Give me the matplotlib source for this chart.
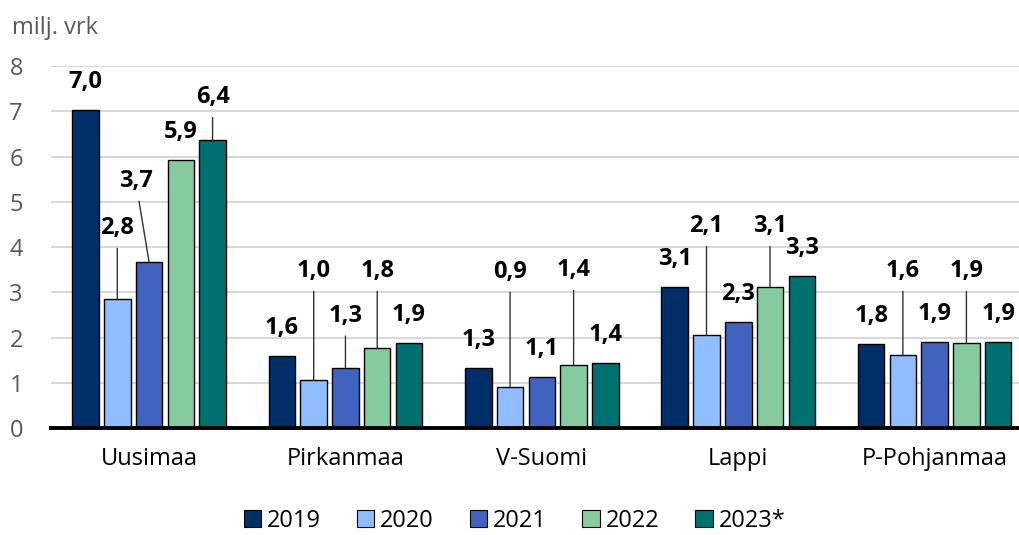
import matplotlib
matplotlib.use("Agg")
import matplotlib.pyplot as plt
import numpy as np

categories = ["Uusimaa", "Pirkanmaa", "V-Suomi", "Lappi", "P-Pohjanmaa"]
years = ["2019", "2020", "2021", "2022", "2023*"]
values = {
    "2019": [7.03, 1.60, 1.33, 3.12, 1.86],
    "2020": [2.85, 1.06, 0.91, 2.06, 1.61],
    "2021": [3.67, 1.33, 1.13, 2.34, 1.90],
    "2022": [5.92, 1.77, 1.39, 3.12, 1.88],
    "2023*": [6.36, 1.88, 1.44, 3.36, 1.91],
}
labels = {
    "2019": ["7,0", "1,6", "1,3", "3,1", "1,8"],
    "2020": ["2,8", "1,0", "0,9", "2,1", "1,6"],
    "2021": ["3,7", "1,3", "1,1", "2,3", "1,9"],
    "2022": ["5,9", "1,8", "1,4", "3,1", "1,9"],
    "2023*": ["6,4", "1,9", "1,4", "3,3", "1,9"],
}
colors = ["#002e69", "#8fbdff", "#4063c0", "#86caa0", "#007170"]

# label placement (height of label centre in axis units; None = directly above bar)
label_y = {
    "2019": [None, None, None, None, None],
    "2020": [4.42, 3.47, 3.45, 4.46, 3.47],
    "2021": [5.46, 2.48, None, None, None],
    "2022": [None, 3.47, 3.49, 4.46, 3.47],
    "2023*": [7.31, None, None, None, None],
}
label_dx = {"2021": [-0.068, 0, 0, 0, 0]}

plt.rcParams['font.family'] = ['Open Sans', 'DejaVu Sans']

fig = plt.figure(figsize=(10.19, 5.35), dpi=100)
ax = fig.add_axes([0.0499, 0.2, 0.9637, 0.6766])

x = np.arange(len(categories))
step = 0.1617
bw = 0.135
LFS = 17
for i, yr in enumerate(years):
    xs = x + (i - 2) * step
    ax.bar(xs, values[yr], width=bw, color=colors[i], edgecolor="black",
           linewidth=1.0, zorder=3, label=yr)
    for j in range(len(categories)):
        v = values[yr][j]
        ly = label_y[yr][j]
        dx = label_dx.get(yr, [0]*5)[j]
        if ly is None:
            ax.text(xs[j], v + 0.62, labels[yr][j], ha="center", va="center",
                    fontsize=LFS, fontweight="bold", color="black", zorder=5, clip_on=False)
        else:
            ax.annotate(labels[yr][j], xy=(xs[j], v), xytext=(xs[j] + dx, ly),
                        ha="center", va="center", fontsize=LFS, fontweight="bold",
                        color="black", zorder=5,
                        arrowprops=dict(arrowstyle="-", color="#333333", lw=1.0,
                                        shrinkA=4, shrinkB=0))

ax.set_xlim(-0.5, 4.5)
ax.set_ylim(0, 8)
ax.set_yticks(range(0, 9))
ax.yaxis.grid(True, color="#d9d9d9", linewidth=1.5, zorder=0)
ax.set_axisbelow(True)
for s in ["top", "right", "left"]:
    ax.spines[s].set_visible(False)
ax.spines["bottom"].set_linewidth(2.8)
ax.spines["bottom"].set_zorder(4)
ax.tick_params(axis="y", length=0, labelsize=17, labelcolor="#595959", pad=25)
ax.tick_params(axis="x", length=0, labelsize=17, labelcolor="black", pad=14)
ax.set_xticks(x)
ax.set_xticklabels(categories)
for t in ax.get_yticklabels():
    t.set_horizontalalignment("center")

fig.text(0.012, 0.947, "milj. vrk", fontsize=17, color="#595959", ha="left", va="center")

handles, lbls = ax.get_legend_handles_labels()
leg = fig.legend(handles, lbls, loc="center", bbox_to_anchor=(0.505, 0.027), ncol=5,
                 frameon=False, fontsize=17, handlelength=0.75, handleheight=0.75,
                 handletextpad=0.25, columnspacing=1.5, borderpad=0)
for h in leg.legend_handles:
    h.set_linewidth(0.8)

fig.savefig("out.png", dpi=100)
